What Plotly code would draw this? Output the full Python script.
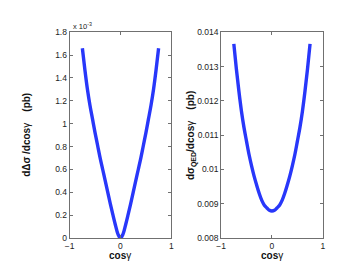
import plotly.graph_objects as go

# cos(gamma) sample points
cosg = [-0.75, -0.70, -0.65, -0.60, -0.55, -0.50, -0.45, -0.40, -0.35, -0.30, -0.25,
        -0.20, -0.15, -0.10, -0.05, 0.0, 0.05, 0.10, 0.15, 0.20, 0.25, 0.30, 0.35,
        0.40, 0.45, 0.50, 0.55, 0.60, 0.65, 0.70, 0.75]

# d(Delta sigma)/dcos(gamma) in units of 1e-3 pb (|cos gamma| = 0 ... 0.75)
half_delta = [0.0, 0.035, 0.115, 0.205, 0.30, 0.40, 0.50, 0.60, 0.70, 0.81, 0.92,
              1.04, 1.16, 1.30, 1.47, 1.66]
delta_sigma = half_delta[::-1] + half_delta[1:]

# d(sigma_QED)/dcos(gamma) in pb (|cos gamma| = 0 ... 0.75)
half_qed = [0.00879, 0.00881, 0.00888, 0.00896, 0.00910, 0.00930, 0.00954, 0.00980,
            0.01010, 0.01043, 0.01082, 0.01122, 0.01170, 0.01228, 0.01293, 0.01366]
sigma_qed = half_qed[::-1] + half_qed[1:]

x_ticks = [-1, 0, 1]
y1_ticks = [0, 0.2, 0.4, 0.6, 0.8, 1.0, 1.2, 1.4, 1.6, 1.8]
y1_labels = ["0", "0.2", "0.4", "0.6", "0.8", "1", "1.2", "1.4", "1.6", "1.8"]
y2_ticks = [0.008, 0.009, 0.010, 0.011, 0.012, 0.013, 0.014]
y2_labels = ["0.008", "0.009", "0.01", "0.011", "0.012", "0.013", "0.014"]

FONT = "Liberation Sans, Arial, sans-serif"
LINE_COLOR = "rgb(40,55,250)"
AX_COLOR = "#707070"

fig = go.Figure()
fig.add_trace(go.Scatter(x=cosg, y=delta_sigma, mode="lines", xaxis="x", yaxis="y",
                         line=dict(color=LINE_COLOR, width=3.4, shape="spline"), showlegend=False))
fig.add_trace(go.Scatter(x=cosg, y=sigma_qed, mode="lines", xaxis="x2", yaxis="y2",
                         line=dict(color=LINE_COLOR, width=3.4, shape="spline"), showlegend=False))

axis_common = dict(showgrid=False, zeroline=False, showline=True, linecolor=AX_COLOR,
                   linewidth=1, mirror="ticks", ticks="inside", ticklen=3, tickcolor=AX_COLOR,
                   tickfont=dict(family=FONT, size=8.5, color="#222"))

y_dom = [1 - 234 / 264, 1 - 20 / 264]
fig.update_layout(
    width=350, height=264,
    margin=dict(l=0, r=0, t=0, b=0),
    paper_bgcolor="white", plot_bgcolor="white",
    xaxis=dict(domain=[58 / 350, 162 / 350], range=[-1, 1], tickvals=x_ticks,
               anchor="y", **axis_common),
    yaxis=dict(domain=y_dom, range=[0, 1.8], tickvals=y1_ticks, ticktext=y1_labels,
               anchor="x", **axis_common),
    xaxis2=dict(domain=[213 / 350, 317 / 350], range=[-1, 1], tickvals=x_ticks,
                anchor="y2", **axis_common),
    yaxis2=dict(domain=y_dom, range=[0.008, 0.014], tickvals=y2_ticks, ticktext=y2_labels,
                anchor="x2", **axis_common),
)

ann = []
# x titles
for cx in (110, 265):
    ann.append(dict(text="<b>cos</b>γ", x=cx / 350, y=1 - 252 / 264, xref="paper", yref="paper",
                    showarrow=False, font=dict(family=FONT, size=10, color="#111"),
                    xanchor="center", yanchor="middle"))
# y titles
ann.append(dict(text="<b>dΔσ /dcos</b>γ    <b>(pb)</b>", x=14 / 350, y=1 - 127 / 264,
                xref="paper", yref="paper", showarrow=False, textangle=-90,
                font=dict(family=FONT, size=10, color="#111"), xanchor="center", yanchor="middle"))
ann.append(dict(text="<b>dσ<sub>QED</sub>/dcos</b>γ    <b>(pb)</b>", x=182 / 350, y=1 - 127 / 264,
                xref="paper", yref="paper", showarrow=False, textangle=-90,
                font=dict(family=FONT, size=10, color="#111"), xanchor="center", yanchor="middle"))
# exponent label
ann.append(dict(text="x 10<sup>-3</sup>", x=59 / 350, y=1 - 14 / 264, xref="paper", yref="paper",
                showarrow=False, font=dict(family=FONT, size=7.5, color="#222"),
                xanchor="left", yanchor="middle"))
fig.update_layout(annotations=ann)

fig.write_html("out.html")
